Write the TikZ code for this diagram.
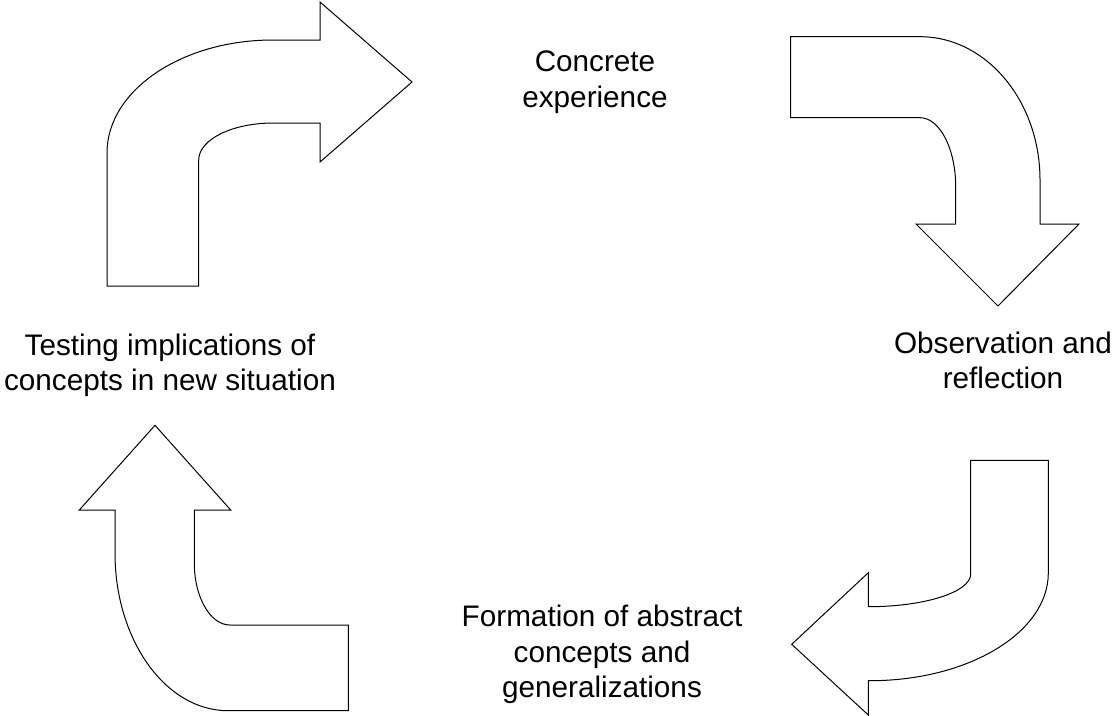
\documentclass[tikz,border=0pt]{standalone}
\usepackage{fontspec}
\setmainfont{Liberation Sans}
\begin{document}
\begin{tikzpicture}[x=1pt,y=-1pt,
  bentarrow/.style={draw=black, line width=1pt, fill=white, line join=miter},
  lbl/.style={font=\fontsize{29.7pt}{35.6pt}\selectfont, align=center, inner sep=0pt, anchor=base}]
\useasboundingbox[fill=white] (0,0) rectangle (1115,715);
% top-left arrow (up then right)
\draw[bentarrow] (107,286) -- (107,153) .. controls (107,90.6) and (181.4,40) .. (273,40)
  -- (320,40) -- (320,2) -- (412,82) -- (320,162) -- (320,123) -- (273.3,123)
  .. controls (232.1,123) and (198.7,139.6) .. (198.7,160) -- (198.7,286) -- cycle;
% top-right arrow (right then down)
\draw[bentarrow] (790.7,36.7) -- (920,36.7) .. controls (986.2,36.7) and (1040,100.9) .. (1040,180)
  -- (1040,224) -- (1079,224) -- (998,306) -- (916,224) -- (955.7,224) -- (955.7,187)
  .. controls (955.7,148.7) and (939.7,117.7) .. (920,117.7) -- (790.7,117.7) -- cycle;
% bottom-right arrow (down then left)
\draw[bentarrow] (970.7,460.3) -- (1048.3,460.3) -- (1048.3,573)
  .. controls (1048.3,632.5) and (968.4,680.7) .. (870,680.7) -- (868.3,680.7)
  -- (868.3,715) -- (791.7,644.3) -- (868.3,572.7) -- (868.3,606.7)
  .. controls (924.8,606.7) and (970.7,592) .. (970.7,574) -- cycle;
% bottom-left arrow (left then up)
\draw[bentarrow] (155,425.3) -- (230.7,510) -- (194.3,510) -- (194.3,563)
  .. controls (194.3,597.2) and (210.3,625) .. (230,625) -- (348.3,625) -- (348.3,710.7)
  -- (228,710.7) .. controls (165.6,710.7) and (115,640) .. (115,553) -- (115,510) -- (79.3,510) -- cycle;
% labels (anchor = baseline of last line)
\node[lbl] (concrete) at (595,107.5) {Concrete\\experience};
\node[lbl] (observation) at (1003,388.6) {Observation and\\reflection};
\node[lbl] (formation) at (602,697.9) {Formation of abstract\\concepts and\\generalizations};
\node[lbl] (testing) at (170,390.6) {Testing implications of\\concepts in new situation};
\end{tikzpicture}
\end{document}
